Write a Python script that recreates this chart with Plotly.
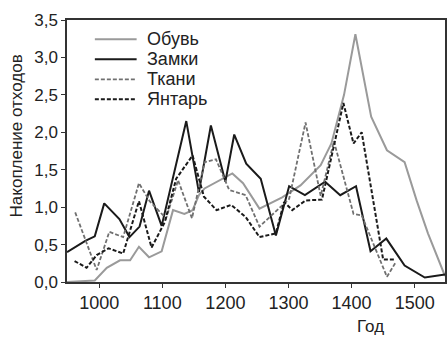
import plotly.graph_objects as go

# Обувь (gray solid)
shoes_x = [949, 975, 993, 1012, 1033, 1049, 1063, 1079, 1099, 1117, 1135, 1148, 1158, 1167, 1211, 1228, 1254, 1290, 1319, 1351, 1368, 1388, 1406, 1431, 1456, 1484, 1503, 1521, 1548]
shoes_y = [0.0, 0.01, 0.02, 0.19, 0.29, 0.29, 0.47, 0.33, 0.41, 0.96, 0.91, 0.96, 1.16, 1.25, 1.45, 1.32, 0.98, 1.13, 1.29, 1.56, 1.85, 2.5, 3.31, 2.21, 1.76, 1.60, 1.09, 0.65, 0.08]

# Замки (black solid)
locks_x = [949, 978, 993, 1008, 1032, 1048, 1064, 1079, 1099, 1138, 1158, 1177, 1200, 1214, 1233, 1256, 1280, 1301, 1326, 1358, 1382, 1407, 1430, 1455, 1484, 1516, 1548]
locks_y = [0.40, 0.55, 0.61, 1.05, 0.84, 0.60, 0.74, 1.22, 0.75, 2.15, 1.20, 2.09, 1.34, 1.97, 1.58, 1.38, 0.62, 1.28, 1.16, 1.34, 1.16, 1.28, 0.41, 0.58, 0.22, 0.06, 0.10]

# Ткани (gray dashed)
cloth_x = [962, 996, 1016, 1038, 1063, 1080, 1106, 1125, 1147, 1167, 1185, 1206, 1232, 1254, 1282, 1301, 1327, 1351, 1372, 1403, 1416, 1456, 1469]
cloth_y = [0.93, 0.16, 0.67, 0.60, 1.32, 1.08, 0.85, 1.36, 0.85, 1.60, 1.64, 1.23, 1.16, 0.74, 0.96, 1.11, 2.13, 1.15, 1.88, 0.91, 0.89, 0.07, 0.25]

# Янтарь (black dashed)
amber_x = [961, 980, 996, 1015, 1038, 1063, 1083, 1104, 1122, 1148, 1166, 1186, 1209, 1232, 1254, 1280, 1293, 1306, 1327, 1353, 1387, 1403, 1416, 1450, 1469]
amber_y = [0.28, 0.19, 0.36, 0.45, 0.38, 1.08, 0.46, 0.80, 1.38, 1.69, 1.14, 0.96, 1.03, 0.87, 0.60, 0.65, 1.07, 0.96, 1.09, 1.10, 2.39, 1.85, 2.0, 0.30, 0.30]

series_names = ["Обувь", "Замки", "Ткани", "Янтарь"]

y_ticks = [0, 0.5, 1.0, 1.5, 2.0, 2.5, 3.0, 3.5]
y_labels = ["0,0", "0,5", "1,0", "1,5", "2,0", "2,5", "3,0", "3,5"]
x_ticks = [1000, 1100, 1200, 1300, 1400, 1500]

FONT = "Liberation Sans, Arial, sans-serif"
TXT = "#222222"

styles = [
    dict(color="#9a9a9a", width=2),
    dict(color="#1a1a1a", width=2),
    dict(color="#707070", width=1.8, dash="4px,2px"),
    dict(color="#1a1a1a", width=2, dash="4px,2px"),
]
data = [(shoes_x, shoes_y), (locks_x, locks_y), (cloth_x, cloth_y), (amber_x, amber_y)]

fig = go.Figure()
for name, (xs, ys), st in zip(series_names, data, styles):
    fig.add_trace(go.Scatter(x=xs, y=ys, mode="lines", name=name, line=st,
                             showlegend=False))

# manual legend (compact row spacing like the reference)
shapes = []
annotations = []
leg_rows = [0.9263, 0.850, 0.7736, 0.6973]
for name, st, yy in zip(series_names, styles, leg_rows):
    shapes.append(dict(type="line", xref="paper", yref="paper",
                       x0=0.0737, x1=0.1842, y0=yy, y1=yy,
                       line=dict(color=st["color"], width=st["width"],
                                 dash=st.get("dash", "solid"))))
    annotations.append(dict(text=name, xref="paper", yref="paper", x=0.2053, y=yy,
                            xanchor="left", yanchor="middle", showarrow=False,
                            font=dict(size=18, color=TXT, family=FONT)))

annotations += [
    dict(text="Год", xref="paper", yref="paper", x=0.803, y=-0.168,
         xanchor="center", yanchor="middle", showarrow=False,
         font=dict(size=17, color=TXT, family=FONT)),
    dict(text="Накопление отходов", xref="paper", yref="paper", x=-0.134, y=0.557,
         xanchor="center", yanchor="middle", showarrow=False, textangle=-90,
         font=dict(size=17, color=TXT, family=FONT)),
]

fig.update_layout(
    width=448, height=337,
    margin=dict(l=67, r=1, t=20, b=55),
    paper_bgcolor="white", plot_bgcolor="white",
    font=dict(family=FONT, size=16, color=TXT),
    showlegend=False,
    xaxis=dict(range=[949, 1548], tickvals=x_ticks, ticks="outside", ticklen=4,
               tickcolor="#333", showline=True, linecolor="#333", linewidth=1.5,
               mirror=True, showgrid=False, zeroline=False,
               tickfont=dict(size=18, color=TXT, family=FONT)),
    yaxis=dict(range=[0, 3.5], tickvals=y_ticks, ticktext=y_labels, ticks="outside",
               ticklen=4, tickcolor="#333", showline=True, linecolor="#333",
               linewidth=1.5, mirror=True, showgrid=False, zeroline=False,
               tickfont=dict(size=17, color=TXT, family=FONT)),
    shapes=shapes,
    annotations=annotations,
)

fig.write_html("out.html")
